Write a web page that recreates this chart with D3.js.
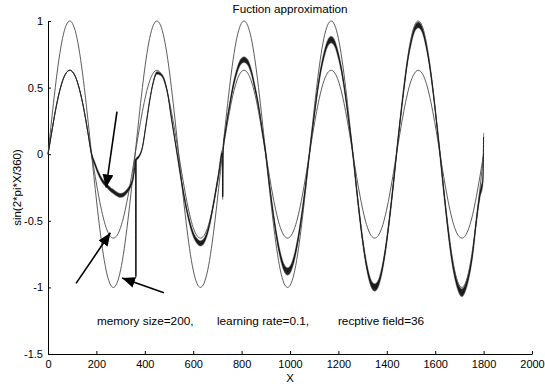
<!DOCTYPE html>
<html>
<head>
<meta charset="utf-8">
<script src="https://d3js.org/d3.v7.min.js"></script>
<title>Fuction approximation</title>
<style>
  body { margin: 0; background: #fff; }
  svg { display: block; }
  text { font-family: "Liberation Sans", Arial, Helvetica, sans-serif; fill: #000; }
</style>
</head>
<body>
<svg id="chart"></svg>
<script>
// target sine, sampled every 30 degrees
var sineX = d3.range(0, 1801, 30);
var targetSine = [
  0, .5, .87, 1, .87, .5, 0, -.5, -.87, -1, -.87, -.5,
  0, .5, .87, 1, .87, .5, 0, -.5, -.87, -1, -.87, -.5,
  0, .5, .87, 1, .87, .5, 0, -.5, -.87, -1, -.87, -.5,
  0, .5, .87, 1, .87, .5, 0, -.5, -.87, -1, -.87, -.5,
  0, .5, .87, 1, .87, .5, 0, -.5, -.87, -1, -.87, -.5,
  0];
// the smaller sine (amplitude ~0.63)
var smallSine = [
  0, .32, .55, .63, .55, .32, 0, -.32, -.55, -.63, -.55, -.32,
  0, .32, .55, .63, .55, .32, 0, -.32, -.55, -.63, -.55, -.32,
  0, .32, .55, .63, .55, .32, 0, -.32, -.55, -.63, -.55, -.32,
  0, .32, .55, .63, .55, .32, 0, -.32, -.55, -.63, -.55, -.32,
  0, .32, .55, .63, .55, .32, 0, -.32, -.55, -.63, -.55, -.32,
  0];

// network output
var approxX = [0, 15, 30, 45, 60, 75, 90, 105, 120, 135, 150, 165, 180,
  195, 210, 225, 240, 255, 270, 285, 300, 315, 330, 345, 352, 358, 362, 363, 364,
  375, 390, 405, 420, 435, 450, 465, 480, 495, 510, 525, 540,
  555, 570, 585, 600, 615, 630, 645, 660, 675, 690, 705, 720, 722, 724,
  735, 750, 765, 780, 795, 810, 825, 840, 855, 870, 885, 900,
  915, 930, 945, 960, 975, 990, 1005, 1020, 1035, 1050, 1065, 1080,
  1095, 1110, 1125, 1140, 1155, 1170, 1185, 1200, 1215, 1230, 1245, 1260,
  1275, 1290, 1305, 1320, 1335, 1350, 1365, 1380, 1395, 1410, 1425, 1440,
  1455, 1470, 1485, 1500, 1515, 1530, 1545, 1560, 1575, 1590, 1605, 1620,
  1635, 1650, 1665, 1680, 1695, 1710, 1725, 1740, 1755, 1770, 1785, 1797, 1800];
var approxY = [0, .16, .32, .45, .55, .61, .63, .61, .55, .45, .32, .16, 0,
  -.08, -.15, -.2, -.23, -.26, -.28, -.3, -.31, -.3, -.27, -.22, -.18, -.1, -.04, -.92, -.04,
  -.02, .05, .22, .4, .54, .61, .6, .56, .45, .27, .1, -.07,
  -.24, -.39, -.51, -.6, -.65, -.67, -.65, -.58, -.46, -.31, -.15, .01, -.32, .03,
  .19, .36, .51, .62, .69, .71, .69, .62, .5, .36, .18, 0,
  -.23, -.44, -.62, -.76, -.85, -.88, -.85, -.76, -.62, -.44, -.23, 0,
  .22, .43, .61, .74, .83, .86, .83, .74, .61, .43, .22, 0,
  -.26, -.5, -.71, -.87, -.97, -1, -.97, -.87, -.71, -.5, -.26, 0,
  .25, .48, .69, .84, .94, .97, .94, .84, .69, .49, .25, 0,
  -.27, -.52, -.74, -.9, -1, -1.04, -1, -.9, -.74, -.5, -.3, -.2, .13];
// half-width of the jitter band, one per half period
var approxNoise = [0, .016, .01, .02, .022, .028, .026, .028, .022, .03];

var xTicks = [0, 200, 400, 600, 800, 1000, 1200, 1400, 1600, 1800, 2000];
var yTicks = [-1.5, -1, -0.5, 0, 0.5, 1];

var arrows = [
  {x1: 285, y1: 0.32, x2: 240, y2: -0.25},
  {x1: 116, y1: -0.97, x2: 258, y2: -0.59},
  {x1: 479, y1: -1.04, x2: 306, y2: -0.93}
];
var notes = [
  {x: 202, y: -1.28, label: "memory size=200,"},
  {x: 698, y: -1.28, label: "learning rate=0.1,"},
  {x: 1198, y: -1.28, label: "recptive field=36"}
];

var width = 545, height = 389;
var svg = d3.select('#chart').attr('width', width).attr('height', height);

var x = d3.scaleLinear().domain([0, 2000]).range([48, 532]);
var y = d3.scaleLinear().domain([-1.5, 1]).range([354, 21]);

// axes, ticks point inward like matlab
svg.append('g')
    .attr('transform', 'translate(0,' + y(-1.5) + ')')
    .call(d3.axisBottom(x).tickValues(xTicks).tickFormat(function (d) { return String(d); })
      .tickSizeInner(-3).tickSizeOuter(0).tickPadding(6))
    .call(function (g) {
      g.selectAll('text').attr('font-size', 11).attr('font-family', null);
      g.selectAll('line, path').attr('stroke', '#000');
    });

svg.append('g')
    .attr('transform', 'translate(' + x(0) + ',0)')
    .call(d3.axisLeft(y).tickValues(yTicks).tickFormat(function (d) { return String(d); })
      .tickSizeInner(-3).tickSizeOuter(0).tickPadding(5))
    .call(function (g) {
      g.selectAll('text').attr('font-size', 11).attr('font-family', null);
      g.selectAll('line, path').attr('stroke', '#000');
    });

// curves
var sineLine = d3.line()
    .x(function (d, i) { return x(sineX[i]); })
    .y(function (d) { return y(d); })
    .curve(d3.curveNatural);

svg.append('path').datum(targetSine)
    .attr('d', sineLine).attr('fill', 'none').attr('stroke', '#4a4a4a').attr('stroke-width', 0.9);
svg.append('path').datum(smallSine)
    .attr('d', sineLine).attr('fill', 'none').attr('stroke', '#4a4a4a').attr('stroke-width', 0.9);

function noiseAt(i) {
  var k = Math.min(approxNoise.length - 1, Math.floor(approxX[i] / 180));
  return approxNoise[k];
}

var band = d3.area()
    .x(function (d, i) { return x(approxX[i]); })
    .y0(function (d, i) { return y(d - noiseAt(i)); })
    .y1(function (d, i) { return y(d + noiseAt(i)); })
    .curve(d3.curveMonotoneX);

svg.append('path').datum(approxY)
    .attr('d', band).attr('fill', '#222').attr('stroke', '#777').attr('stroke-width', 0.5);

var approxLine = d3.line()
    .x(function (d, i) { return x(approxX[i]); })
    .y(function (d) { return y(d); })
    .curve(d3.curveMonotoneX);

svg.append('path').datum(approxY)
    .attr('d', approxLine).attr('fill', 'none').attr('stroke', '#111').attr('stroke-width', 0.9);

// arrows
svg.append('defs').append('marker')
    .attr('id', 'head')
    .attr('viewBox', '0 0 12 10')
    .attr('refX', 12).attr('refY', 5)
    .attr('markerWidth', 13).attr('markerHeight', 11)
    .attr('markerUnits', 'userSpaceOnUse')
    .attr('orient', 'auto')
  .append('path')
    .attr('d', 'M0,0L12,5L0,10Z')
    .attr('fill', '#000');

svg.selectAll('line.arrow').data(arrows).enter().append('line')
    .attr('class', 'arrow')
    .attr('x1', function (d) { return x(d.x1); })
    .attr('y1', function (d) { return y(d.y1); })
    .attr('x2', function (d) { return x(d.x2); })
    .attr('y2', function (d) { return y(d.y2); })
    .attr('stroke', '#000').attr('stroke-width', 1.6)
    .attr('marker-end', 'url(#head)');

// annotations
svg.selectAll('text.note').data(notes).enter().append('text')
    .attr('class', 'note')
    .attr('x', function (d) { return x(d.x); })
    .attr('y', function (d) { return y(d.y); })
    .attr('font-size', 11.8)
    .text(function (d) { return d.label; });

// title and labels
svg.append('text')
    .attr('x', (x(0) + x(2000)) / 2).attr('y', 13)
    .attr('text-anchor', 'middle').attr('font-size', 11.7)
    .text('Fuction approximation');

svg.append('text')
    .attr('x', (x(0) + x(2000)) / 2).attr('y', 382)
    .attr('text-anchor', 'middle').attr('font-size', 11.5)
    .text('X');

svg.append('text')
    .attr('transform', 'translate(21,' + (y(-1.5) + y(1)) / 2 + ') rotate(-90)')
    .attr('text-anchor', 'middle').attr('font-size', 11.5)
    .text('sin(2*pi*X/360)');
</script>
</body>
</html>
